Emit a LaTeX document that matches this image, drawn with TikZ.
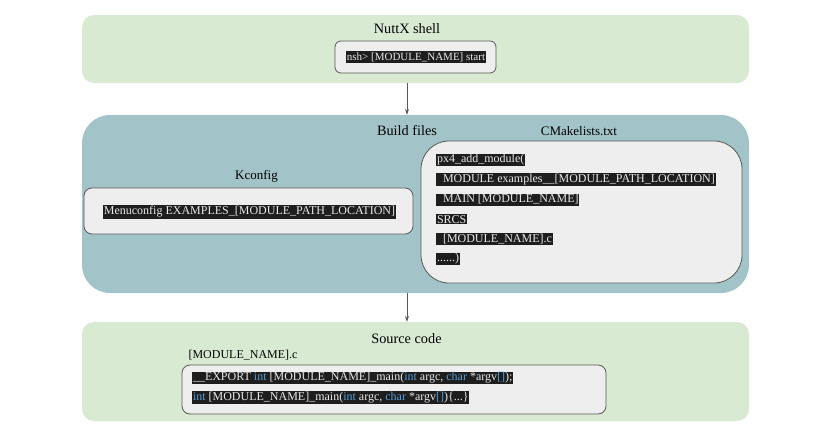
\documentclass[tikz,border=0pt]{standalone}
\usepackage{fontspec}
\setmainfont{Liberation Serif}
\usepackage{xcolor}
\usetikzlibrary{arrows.meta, positioning}

\definecolor{shellgreen}{HTML}{D9EAD3}
\definecolor{buildteal}{HTML}{A2C4C9}
\definecolor{boxgray}{HTML}{EEEEEE}
\definecolor{edgegray}{HTML}{595959}
\definecolor{codebg}{HTML}{1E1E1E}
\definecolor{codefg}{HTML}{E8E8E8}
\definecolor{kwblue}{HTML}{569CD6}
\newcommand{\kw}[1]{\textcolor{kwblue}{#1}}

\begin{document}
\begin{tikzpicture}[x=1pt, y=-1pt, node distance=19.8pt, on grid,
   area/.style={rectangle, rounded corners=12pt, fill=#1, minimum width=667pt},
   panel/.style={rectangle, draw=edgegray, fill=boxgray, line width=0.8pt},
   title/.style={font=\fontsize{14.3}{16}\selectfont},
   subtitle/.style={font=\fontsize{13}{15}\selectfont},
   hl/.style={fill=codebg, text=codefg, inner xsep=0.8pt, inner ysep=1pt,
              font=\fontsize{12}{14}\selectfont, anchor=west},
   flow/.style={draw=edgegray, line width=0.8pt, -{Stealth[length=6pt, width=4pt]}}]
   \useasboundingbox (0,0) rectangle (825,447);

   % NuttX shell
   \node[area=shellgreen, minimum height=68pt] (shell) at (415.5,49) {};
   \node[title] (shelltitle) at (407,29) {NuttX shell};
   \node[panel, rounded corners=6pt, minimum width=161pt, minimum height=32pt] (nsh) at (415.5,57) {};
   \node[hl, anchor=center, font=\fontsize{11}{13}\selectfont] (nshcmd) at (416,57) {nsh> [MODULE\_NAME] start};

   % Build files
   \node[area=buildteal, rounded corners=28pt, minimum height=178pt] (build) at (415.5,204) {};
   \node[title] (buildtitle) at (407,131) {Build files};
   \node[subtitle] (cmaketitle) at (579,131) {CMakelists.txt};
   \node[panel, rounded corners=28pt, minimum width=321pt, minimum height=142pt] (cmake) at (581.5,212) {};
   \node[hl] (c1) at (436,160) {px4\_add\_module(};
   \node[hl] (c2) [below=of c1.west, anchor=west] {\ \ MODULE examples\_\_[MODULE\_PATH\_LOCATION]};
   \node[hl] (c3) [below=of c2.west, anchor=west] {\ \ MAIN [MODULE\_NAME]};
   \node[hl] (c4) [below=of c3.west, anchor=west] {SRCS};
   \node[hl] (c5) [below=of c4.west, anchor=west] {\ \ [MODULE\_NAME].c};
   \node[hl] (c6) [below=of c5.west, anchor=west] {......)};

   \node[subtitle] (kconftitle) at (256.5,176) {Kconfig};
   \node[panel, rounded corners=8pt, minimum width=329pt, minimum height=46pt] (kconf) at (248.5,211) {};
   \node[hl, anchor=center] (menucfg) at (249.5,212) {Menuconfig EXAMPLES\_[MODULE\_PATH\_LOCATION]};

   % Source code
   \node[area=shellgreen, minimum height=99pt] (source) at (415.5,371.5) {};
   \node[title] (sourcetitle) at (406.5,339) {Source code};
   \node[font=\fontsize{12}{14}\selectfont, anchor=west] (srcfile) at (185,355) {[MODULE\_NAME].c};
   \node[panel, rounded corners=8pt, minimum width=424pt, minimum height=49pt] (code) at (394,389.5) {};
   \node[hl] (s1) at (192,378) {\_\_EXPORT \kw{int} [MODULE\_NAME]\_main(\kw{int} argc, \kw{char} *argv\kw{[]});};
   \node[hl] (s2) [below=of s1.west, anchor=west] {\kw{int} [MODULE\_NAME]\_main(\kw{int} argc, \kw{char} *argv\kw{[]})\{...\}};

   \draw[flow] (shell.south -| shelltitle) -- (build.north -| shelltitle);
   \draw[flow] (build.south -| shelltitle) -- (source.north -| shelltitle);
\end{tikzpicture}
\end{document}
